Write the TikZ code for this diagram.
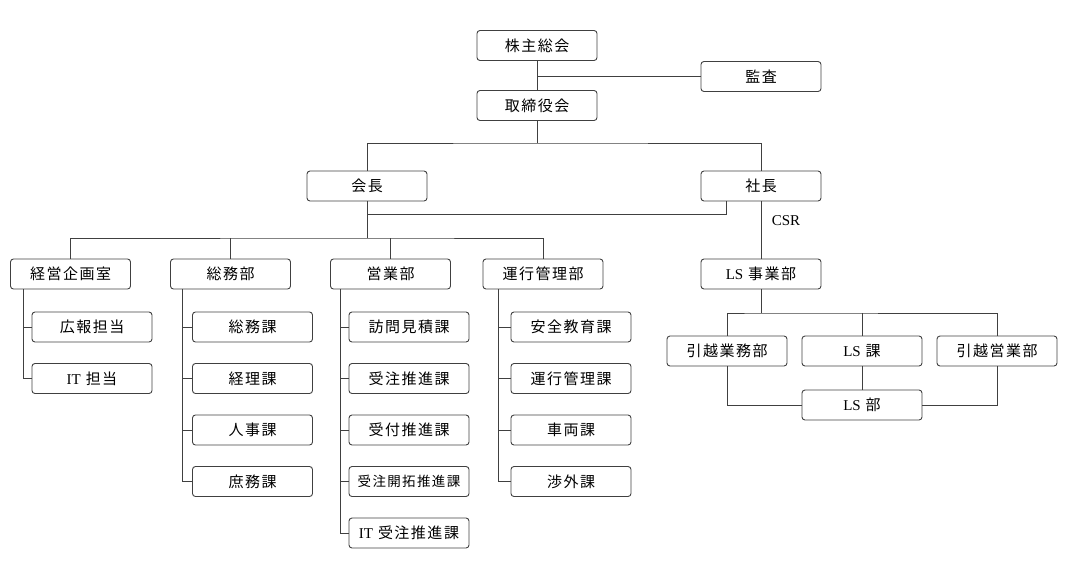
\documentclass[tikz,border=0pt]{standalone}
\usepackage{fontspec}
\setmainfont{Liberation Serif}
\newfontfamily\jpfont{Noto Sans CJK JP}[LetterSpace=10]
\tikzset{
  unit/.style = {shape=rectangle, rounded corners=3pt,
                 draw=black!75, line width=0.9pt,
                 minimum width=120pt, minimum height=30pt, inner sep=0pt,
                 font=\fontsize{15}{18}\selectfont\jpfont},
  link/.style = {draw=black!75, line width=0.9pt},
  tag/.style  = {font=\fontsize{15}{18}\selectfont\rmfamily}
}
\begin{document}
\begin{tikzpicture}[x=1pt, y=-1pt]
  \useasboundingbox (0,0) rectangle (1089,574);

  % top of the chart
  \node [unit] (kabu)   at (537,45.5)  {株主総会};
  \node [unit] (kansa)  at (761,76.5)  {監査};
  \node [unit] (tori)   at (537,105.5) {取締役会};
  \node [unit] (kaicho) at (367,186)   {会長};
  \node [unit] (shacho) at (761,186)   {社長};
  \draw [link] (kabu) -- (tori);
  \draw [link] (kansa.west) -- (kansa.west -| kabu.south);
  \coordinate (j1) at (537,143);
  \draw [link] (tori) -- (j1);
  \draw [link] (kaicho.north) |- (j1) -| (shacho.north);

  % departments
  \node [unit] (keiei) at (70.5,274)  {経営企画室};
  \node [unit] (somu)  at (230.5,274) {総務部};
  \node [unit] (eigyo) at (390.5,274) {営業部};
  \node [unit] (unko)  at (543,274)   {運行管理部};
  \coordinate (j2) at (367,238);
  \coordinate (j3) at (726,214);
  \draw [link] (kaicho) -- (j2);
  \draw [link] (keiei.north) |- (j2) -| (unko.north);
  \foreach \d in {somu, eigyo}
    \draw [link] (\d.north) -- (\d.north |- j2);
  \draw [link] (shacho.south -| j3) |- (kaicho.south |- j3);

  % sections
  \foreach \t [count=\i] in {広報担当, {{\rmfamily IT} 担当}} {
    \node [unit] (keiei-\i) at (92,275.5+51.5*\i) {\t};
    \draw [link] ([xshift=13pt]keiei.south west) |- (keiei-\i.west);
  }
  \foreach \t [count=\i] in {総務課, 経理課, 人事課, 庶務課} {
    \node [unit] (somu-\i) at (252.5,275.5+51.5*\i) {\t};
    \draw [link] ([xshift=12pt]somu.south west) |- (somu-\i.west);
  }
  \foreach \t [count=\i] in {訪問見積課, 受注推進課, 受付推進課,
      {{\fontsize{13.5}{16}\selectfont 受注開拓推進課}}, {{\rmfamily IT} 受注推進課}} {
    \node [unit] (eigyo-\i) at (409,275.5+51.5*\i) {\t};
    \draw [link] ([xshift=10pt]eigyo.south west) |- (eigyo-\i.west);
  }
  \foreach \t [count=\i] in {安全教育課, 運行管理課, 車両課, 渉外課} {
    \node [unit] (unko-\i) at (571,275.5+51.5*\i) {\t};
    \draw [link] ([xshift=16pt]unko.south west) |- (unko-\i.west);
  }

  % LS side
  \node [unit] (lsj)    at (761,274) {{\rmfamily LS} 事業部};
  \node [tag]  (csr)    at (786,221) {CSR};
  \node [unit] (hgyomu) at (727,351) {引越業務部};
  \node [unit] (lska)   at (862,351) {{\rmfamily LS} 課};
  \node [unit] (heigyo) at (997,351) {引越営業部};
  \node [unit] (lsbu)   at (862,405) {{\rmfamily LS} 部};
  \draw [link] (shacho) -- (lsj);
  \coordinate (j4) at (761,313);
  \draw [link] (lsj) -- (j4);
  \draw [link] (hgyomu.north) |- (j4) -| (heigyo.north);
  \draw [link] (lska.north) -- (lska.north |- j4);
  \draw [link] (lska) -- (lsbu);
  \draw [link] (hgyomu.south) |- (lsbu.west);
  \draw [link] (heigyo.south) |- (lsbu.east);
\end{tikzpicture}
\end{document}
